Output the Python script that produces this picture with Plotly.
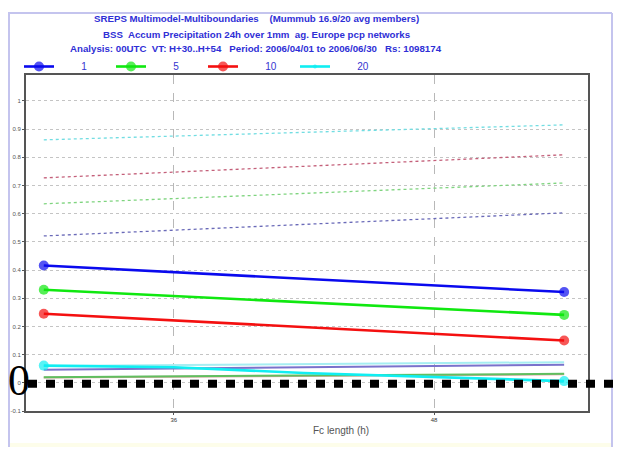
import plotly.graph_objects as go

# ---------------- data ----------------
hours = [30, 54]
cyan_hours = [30, 36, 42, 48, 54]

thresholds = ["1", "5", "10", "20"]

bss_1 = [0.416, 0.322]
bss_5 = [0.330, 0.241]
bss_10 = [0.245, 0.150]
bss_20 = [0.061, 0.055, 0.035, 0.020, 0.006]

ref_1 = [0.521, 0.603]
ref_5 = [0.635, 0.709]
ref_10 = [0.727, 0.809]
ref_20 = [0.862, 0.915]

low_purple = [0.046, 0.064]
low_lcyan = [0.060, 0.073]
low_pink = [0.019, 0.030]
low_green = [0.020, 0.032]

y_ticks = [-0.1, 0, 0.1, 0.2, 0.3, 0.4, 0.5, 0.6, 0.7, 0.8, 0.9, 1.0]
y_ticktext = ["-0.1", "0", "0.1", "0.2", "0.3", "0.4", "0.5", "0.6", "0.7", "0.8", "0.9", "1"]
x_ticks = [36, 48]
x_ticktext = ["36", "48"]

title_lines = [
    "SREPS Multimodel-Multiboundaries    (Mummub 16.9/20 avg members)",
    "BSS  Accum Precipitation 24h over 1mm  ag. Europe pcp networks",
    "Analysis: 00UTC  VT: H+30..H+54   Period: 2006/04/01 to 2006/06/30   Rs: 1098174",
]
x_title = "Fc length (h)"

# ---------------- layout geometry ----------------
# the html body has an 8px margin: the figure is drawn at (8, 8) in the window
OFF = 8
W, H = 624 - 2 * OFF, 455 - 2 * OFF
PLOT_L, PLOT_R, PLOT_T, PLOT_B = 26, 588, 75, 411   # window pixels
ML, MT = PLOT_L - OFF, PLOT_T - OFF
MR, MB = W - (PLOT_R - OFF), H - (PLOT_B - OFF)
PW, PH = W - ML - MR, H - MT - MB
Y_MIN, Y_MAX = -0.1, 1.092
X_MIN, X_MAX = 29.18, 55.1


def xp(px):
    return (px - OFF - ML) / PW


def yp(py):
    return (H - MB - (py - OFF)) / PH


def y_data_to_paper(v):
    return (v - Y_MIN) / (Y_MAX - Y_MIN)


fig = go.Figure()

# dashed (faded) lines
for vals, col in [(ref_1, "#6a6ab8"), (ref_5, "#7fd47f"), (ref_10, "#c4607a"), (ref_20, "#72dde2")]:
    fig.add_trace(go.Scatter(x=hours, y=vals, mode="lines", showlegend=False,
                             line=dict(color=col, width=1.3, dash="3px,3px"), hoverinfo="skip"))

# thin near-zero lines
for vals, col in [(low_pink, "#e2a2a2"), (low_green, "#5fbf5f"), (low_purple, "#7a72cc"), (low_lcyan, "#a6eef2")]:
    fig.add_trace(go.Scatter(x=hours, y=vals, mode="lines", showlegend=False,
                             line=dict(color=col, width=2), hoverinfo="skip"))

pad = "\u00a0" * 8
solid = [
    (hours, bss_1, "#0a0aee"),
    (hours, bss_5, "#10e810"),
    (hours, bss_10, "#f41010"),
    (cyan_hours, bss_20, "#10eef2"),
]
for (xs, vals, col), name in zip(solid, thresholds):
    sizes = [10 if i in (0, len(xs) - 1) else 0 for i in range(len(xs))]
    fig.add_trace(go.Scatter(x=xs, y=vals, mode="lines+markers", name=pad + name,
                             line=dict(color=col, width=2.6),
                             marker=dict(color=col, size=sizes, line=dict(width=0))))

annotations = []
for i, t in enumerate(title_lines):
    annotations.append(dict(text="<b>%s</b>" % t, x=xp(256), y=yp([19, 34, 48][i]),
                            xref="paper", yref="paper", showarrow=False,
                            xanchor="center", yanchor="middle",
                            font=dict(family="Liberation Sans, Arial", size=9.7, color="#2f2fd6")))
annotations.append(dict(text=x_title, x=xp(341), y=yp(430), xref="paper", yref="paper",
                        showarrow=False, xanchor="center", yanchor="middle",
                        font=dict(family="Liberation Sans, Arial", size=10, color="#555555")))
annotations.append(dict(text="0", x=xp(19), y=y_data_to_paper(0), xref="paper", yref="paper",
                        showarrow=False, xanchor="center", yanchor="middle", yshift=2,
                        font=dict(family="Liberation Serif, Times New Roman", size=44, color="#000000")))

shapes = [
    # page frame
    dict(type="line", xref="paper", yref="paper", x0=xp(8), x1=xp(612), y0=yp(13), y1=yp(13),
         line=dict(color="#c4c4ee", width=2)),
    dict(type="line", xref="paper", yref="paper", x0=xp(9), x1=xp(9), y0=yp(13), y1=yp(447),
         line=dict(color="#c4c4ee", width=2)),
    dict(type="line", xref="paper", yref="paper", x0=xp(612), x1=xp(612), y0=yp(13), y1=yp(447),
         line=dict(color="#c4c4ee", width=2)),
    dict(type="rect", xref="paper", yref="paper", x0=xp(10), x1=xp(611), y0=yp(447), y1=yp(443),
         fillcolor="#fdfdea", line=dict(width=0), layer="below"),
    # thick black dotted zero line
    dict(type="line", xref="paper", yref="paper", x0=xp(28), x1=xp(616),
         y0=y_data_to_paper(0) - 1 / PH, y1=y_data_to_paper(0) - 1 / PH,
         line=dict(color="#000000", width=8, dash="9px,9px")),
]

fig.update_layout(
    width=W, height=H,
    margin=dict(l=ML, r=MR, t=MT, b=MB, autoexpand=False),
    paper_bgcolor="white", plot_bgcolor="white",
    font=dict(family="Liberation Sans, Arial", size=10, color="#3535d0"),
    showlegend=True,
    legend=dict(orientation="h", x=xp(19), y=yp(52), xanchor="left", yanchor="top",
                entrywidth=47, entrywidthmode="pixels", itemwidth=30,
                font=dict(size=10, color="#3535d0"), bgcolor="rgba(0,0,0,0)",
                tracegroupgap=0),
    annotations=annotations,
    shapes=shapes,
    xaxis=dict(range=[X_MIN, X_MAX], tickvals=x_ticks, ticktext=x_ticktext,
               showgrid=True, gridcolor="#b8b8b8", griddash="dash", gridwidth=1,
               showline=True, linecolor="#555555", linewidth=1.5, mirror=True,
               ticks="outside", ticklen=2, tickcolor="#555555", automargin=False,
               tickfont=dict(size=6, color="#333333"), zeroline=False),
    yaxis=dict(range=[Y_MIN, Y_MAX], tickvals=y_ticks, ticktext=y_ticktext,
               showgrid=True, gridcolor="#c4c4c4", griddash="dot", gridwidth=1,
               showline=True, linecolor="#555555", linewidth=2, mirror=True,
               ticks="outside", ticklen=2, tickcolor="#555555", automargin=False,
               tickfont=dict(size=6, color="#555555"), zeroline=False),
)

fig.write_html("out.html")
